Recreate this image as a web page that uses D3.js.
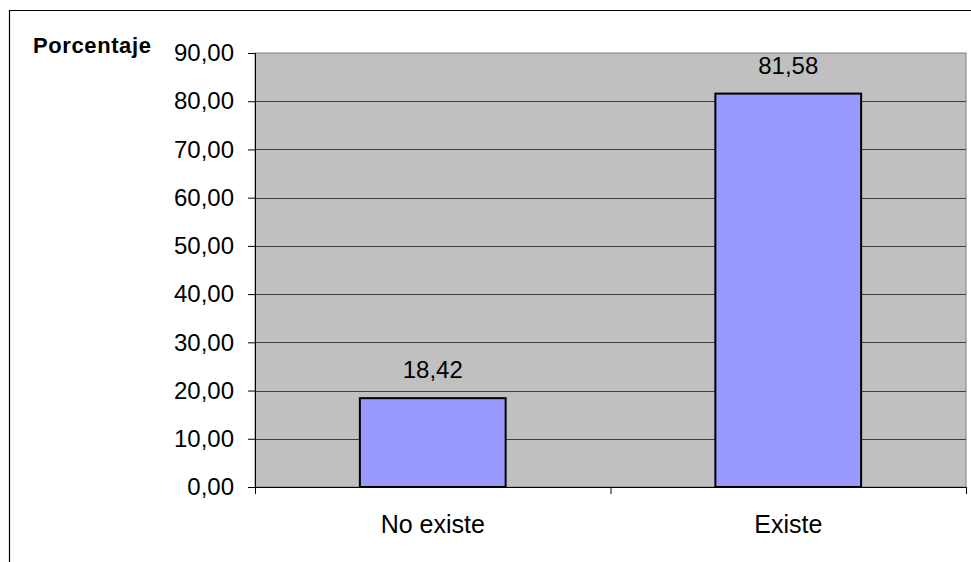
<!DOCTYPE html>
<html>
<head>
<meta charset="utf-8">
<script src="https://cdn.jsdelivr.net/npm/d3@7"></script>
<style>
	body { margin: 0; background: #fff; }
	svg { display: block; font-family: "Liberation Sans", Arial, sans-serif; }
</style>
</head>
<body>
<svg id="chart"></svg>
<script>
const categories = ["No existe", "Existe"];
const values = [18.42, 81.58];
const yTicks = [0, 10, 20, 30, 40, 50, 60, 70, 80, 90];

const width = 971;
const height = 562;
const plot = { left: 255, right: 966, top: 53, bottom: 487 };
const fontSize = 24;

const fmt = (v) => v.toFixed(2).replace(".", ",");

const svg = d3.select("#chart")
	.attr("width", width)
	.attr("height", height);

// chart frame (only top and left edges show in the picture)
svg.append("path")
	.attr("d", `M 9.5,562 L 9.5,10.5 L 971,10.5`)
	.attr("fill", "none")
	.attr("stroke", "#000")
	.attr("stroke-width", 1.2);

const x = d3.scaleBand()
	.domain(categories)
	.range([plot.left, plot.right])
	.paddingInner(0)
	.paddingOuter(0);

const y = d3.scaleLinear()
	.domain([0, 90])
	.range([plot.bottom, plot.top]);

svg.append("rect")
	.attr("x", plot.left)
	.attr("y", plot.top)
	.attr("width", plot.right - plot.left)
	.attr("height", plot.bottom - plot.top)
	.attr("fill", "#c0c0c0")
	.attr("stroke", "#808080")
	.attr("stroke-width", 1);

// gridlines
svg.selectAll(".grid")
	.data(yTicks.filter((d) => d > 0 && d < 90))
	.enter()
	.append("line")
	.attr("class", "grid")
	.attr("x1", plot.left)
	.attr("x2", plot.right)
	.attr("y1", (d) => Math.round(y(d)) + 0.5)
	.attr("y2", (d) => Math.round(y(d)) + 0.5)
	.attr("stroke", "#404040")
	.attr("stroke-width", 1);

// bars
const barWidth = x.bandwidth() * 0.41;
svg.selectAll(".bar")
	.data(values)
	.enter()
	.append("rect")
	.attr("class", "bar")
	.attr("x", (d, i) => x(categories[i]) + (x.bandwidth() - barWidth) / 2)
	.attr("y", (d) => y(d))
	.attr("width", barWidth)
	.attr("height", (d) => y(0) - y(d))
	.attr("fill", "#9999ff")
	.attr("stroke", "#000")
	.attr("stroke-width", 2);

svg.selectAll(".value")
	.data(values)
	.enter()
	.append("text")
	.attr("class", "value")
	.attr("x", (d, i) => x(categories[i]) + x.bandwidth() / 2)
	.attr("y", (d) => y(d) - 20)
	.attr("text-anchor", "middle")
	.attr("font-size", fontSize)
	.text(fmt);

// y axis
const yAxis = d3.axisLeft(y)
	.tickValues(yTicks)
	.tickSize(7)
	.tickPadding(14)
	.tickFormat(fmt);
const gy = svg.append("g")
	.attr("transform", `translate(${plot.left},0)`)
	.call(yAxis);
gy.attr("font-size", fontSize).attr("font-family", null);
gy.select(".domain").attr("stroke", "#000");
gy.selectAll(".tick line").attr("stroke", "#000");
gy.selectAll(".tick text").attr("fill", "#000");

// x axis
const xAxis = d3.axisBottom(x)
	.tickSize(0)
	.tickPadding(28);
const gx = svg.append("g")
	.attr("transform", `translate(0,${plot.bottom})`)
	.call(xAxis);
gx.attr("font-size", 25).attr("font-family", null);
gx.select(".domain").attr("stroke", "#000");
gx.selectAll(".tick text").attr("fill", "#000");

// category separators on the x axis
svg.selectAll(".xsep")
	.data([plot.left, x(categories[1]), plot.right])
	.enter()
	.append("line")
	.attr("class", "xsep")
	.attr("x1", (d) => d + 0.5)
	.attr("x2", (d) => d + 0.5)
	.attr("y1", plot.bottom)
	.attr("y2", plot.bottom + 7)
	.attr("stroke", "#000");

svg.append("text")
	.attr("x", 33)
	.attr("y", 53)
	.attr("font-size", 22)
	.attr("font-weight", "bold")
	.attr("letter-spacing", 0.6)
	.text("Porcentaje");
</script>
</body>
</html>
